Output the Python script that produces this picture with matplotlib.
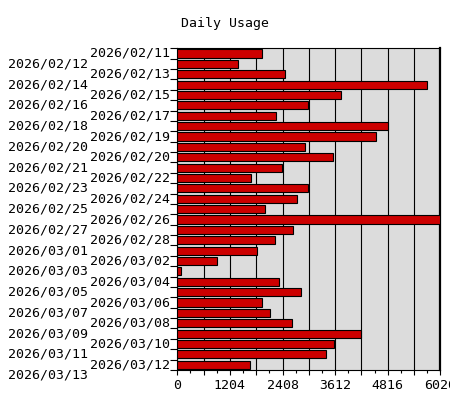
import matplotlib
matplotlib.use('Agg')
import matplotlib.pyplot as plt
from matplotlib.ticker import MultipleLocator, FuncFormatter, FixedLocator, NullFormatter

plt.rcParams['font.family'] = ['DejaVu Sans Mono']
plt.rcParams['font.size'] = 9.5

title = "Daily Usage"
labels = ["2026/02/11", "2026/02/12", "2026/02/13", "2026/02/14", "2026/02/15",
          "2026/02/16", "2026/02/17", "2026/02/18", "2026/02/19", "2026/02/20",
          "2026/02/20", "2026/02/21", "2026/02/22", "2026/02/23", "2026/02/24",
          "2026/02/25", "2026/02/26", "2026/02/27", "2026/02/28", "2026/03/01",
          "2026/03/02", "2026/03/03", "2026/03/04", "2026/03/05", "2026/03/06",
          "2026/03/07", "2026/03/08", "2026/03/09", "2026/03/10", "2026/03/11",
          "2026/03/12", "2026/03/13"]
values = [1932, 1382, 2458, 5708, 3740, 2985, 2252, 4816, 4541, 2916,
          3557, 2389, 1680, 2985, 2733, 2000, 6020, 2641, 2229, 1817,
          902, 78, 2321, 2825, 1932, 2115, 2618, 4212, 3580, 3397, 1657]
x_max = 6020
x_step = 602

fig = plt.figure(figsize=(4.5, 4), dpi=100)
ax = fig.add_axes([177.3 / 450, 30 / 400, 263 / 450, 321.7 / 400])
ax.set_facecolor('#dcdcdc')

n = len(values)
ax.barh(range(n), values, height=0.78, color='#cc0000', edgecolor='black',
        linewidth=0.8, zorder=3)
ax.set_ylim(n - 0.5, -0.5)
ax.set_xlim(0, x_max)

ax.xaxis.set_major_locator(MultipleLocator(x_step))
ax.xaxis.set_minor_locator(MultipleLocator(x_step / 2))
ax.xaxis.set_major_formatter(FuncFormatter(
    lambda v, p: f"{int(round(v))}" if round(v / x_step) % 2 == 0 else ""))
ax.grid(axis='x', which='major', color='black', linewidth=0.8, zorder=1)
ax.set_axisbelow(True)
ax.tick_params(axis='x', which='major', length=3.6, width=0.8, pad=3, colors='black')
ax.tick_params(axis='x', which='minor', length=2.2, width=0.8)

ax.yaxis.set_major_locator(FixedLocator([i - 0.5 for i in range(n + 1)]))
ax.yaxis.set_major_formatter(NullFormatter())
ax.tick_params(axis='y', which='major', length=5.2, width=0.8)

for i, lab in enumerate(labels):
    off = -7 if i % 2 == 0 else -89
    ax.annotate(lab, xy=(0, i), xycoords=('axes fraction', 'data'),
                xytext=(off, 0), textcoords='offset pixels',
                ha='right', va='center', annotation_clip=False)

for s in ['left', 'bottom', 'top']:
    ax.spines[s].set_linewidth(0.8)
ax.spines['right'].set_linewidth(1.6)

fig.text(0.5, 1 - 23 / 400, title, ha='center', va='center')

fig.savefig('out.png', dpi=100, facecolor='white')
